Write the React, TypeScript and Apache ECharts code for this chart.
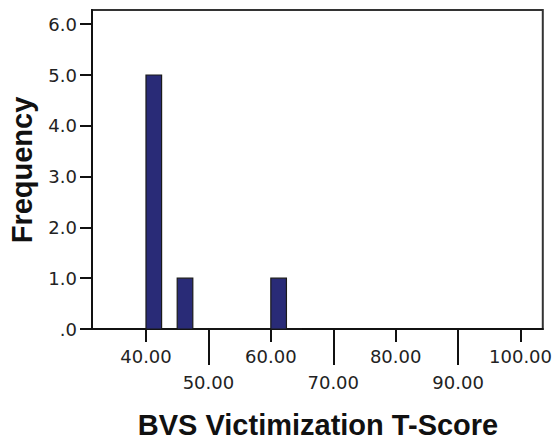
import React, { useEffect, useRef } from "react";
import * as echarts from "echarts";

// Histogram bins (lower edge, upper edge) and frequencies
const binLower = [40, 42.5, 45, 47.5, 50, 52.5, 55, 57.5, 60, 62.5];
const binUpper = [42.5, 45, 47.5, 50, 52.5, 55, 57.5, 60, 62.5, 65];
const frequencies = [5, 0, 1, 0, 0, 0, 0, 0, 1, 0];

const yTicks = [0, 1, 2, 3, 4, 5, 6];
const xTicksUpper = [40, 60, 80, 100];
const xTicksLower = [50, 70, 90];

const xTitle = "BVS Victimization T-Score";
const yTitle = "Frequency";

const X_MIN = 31.35;
const X_MAX = 103.57;
const Y_MAX = 6.28;

const TICK_FONT = "DejaVu Sans";
const TITLE_FONT = "Liberation Sans";

export default function App() {
  const ref = useRef<HTMLDivElement>(null);

  useEffect(() => {
    if (!ref.current) return;
    const chart = echarts.init(ref.current, null, { renderer: "svg" });
    const data = binLower.map((lo, i) => [lo, binUpper[i], frequencies[i]]);

    const xLabelStyle = {
      fontFamily: TICK_FONT,
      fontSize: 18,
      color: "#222",
      formatter: (v: number) => v.toFixed(2),
    };

    chart.setOption({
      animation: false,
      backgroundColor: "#fff",
      grid: {
        left: 92,
        right: 12,
        top: 10,
        bottom: 113,
        show: true,
        borderColor: "#333",
        borderWidth: 2,
        backgroundColor: "transparent",
      },
      xAxis: [
        {
          type: "value",
          position: "bottom",
          min: X_MIN,
          max: X_MAX,
          axisLine: { show: true, onZero: false, lineStyle: { color: "#111", width: 2 } },
          axisTick: {
            show: true,
            customValues: xTicksUpper,
            length: 13,
            lineStyle: { color: "#111", width: 2 },
          },
          axisLabel: { ...xLabelStyle, customValues: xTicksUpper, margin: 18 },
          splitLine: { show: false },
        },
        {
          type: "value",
          position: "bottom",
          min: X_MIN,
          max: X_MAX,
          axisLine: { show: false },
          axisTick: {
            show: true,
            customValues: xTicksLower,
            length: 36,
            lineStyle: { color: "#111", width: 2 },
          },
          axisLabel: { ...xLabelStyle, customValues: xTicksLower, margin: 44 },
          splitLine: { show: false },
        },
      ],
      yAxis: {
        type: "value",
        min: 0,
        max: Y_MAX,
        axisLine: { show: true, lineStyle: { color: "#111", width: 2 } },
        axisTick: {
          show: true,
          customValues: yTicks,
          length: 12,
          lineStyle: { color: "#111", width: 2 },
        },
        axisLabel: {
          customValues: yTicks,
          fontFamily: TICK_FONT,
          fontSize: 18,
          color: "#222",
          margin: 15,
          formatter: (v: number) => (v === 0 ? ".0" : v.toFixed(1)),
        },
        splitLine: { show: false },
      },
      graphic: [
        {
          type: "text",
          x: 22,
          y: 170,
          rotation: Math.PI / 2,
          style: {
            text: yTitle,
            fontFamily: TITLE_FONT,
            fontWeight: "bold",
            fontSize: 29,
            fill: "#111",
            align: "center",
            verticalAlign: "middle",
          },
        },
        {
          type: "text",
          x: 318,
          y: 425,
          style: {
            text: xTitle,
            fontFamily: TITLE_FONT,
            fontWeight: "bold",
            fontSize: 29,
            fill: "#111",
            align: "center",
            verticalAlign: "middle",
          },
        },
      ],
      series: [
        {
          type: "custom",
          xAxisIndex: 0,
          yAxisIndex: 0,
          encode: { x: [0, 1], y: 2 },
          data,
          renderItem: (params: any, api: any) => {
            const p0 = api.coord([api.value(0), api.value(2)]);
            const p1 = api.coord([api.value(1), 0]);
            return {
              type: "rect",
              shape: { x: p0[0], y: p0[1], width: p1[0] - p0[0], height: p1[1] - p0[1] },
              style: { fill: "#292b77", stroke: "#1a1a1a", lineWidth: 1.2 },
            };
          },
        },
      ],
    });
    return () => chart.dispose();
  }, []);

  return (
    <div
      ref={ref}
      style={{ position: "absolute", left: 0, top: 0, width: 555, height: 442, background: "#fff" }}
    />
  );
}
